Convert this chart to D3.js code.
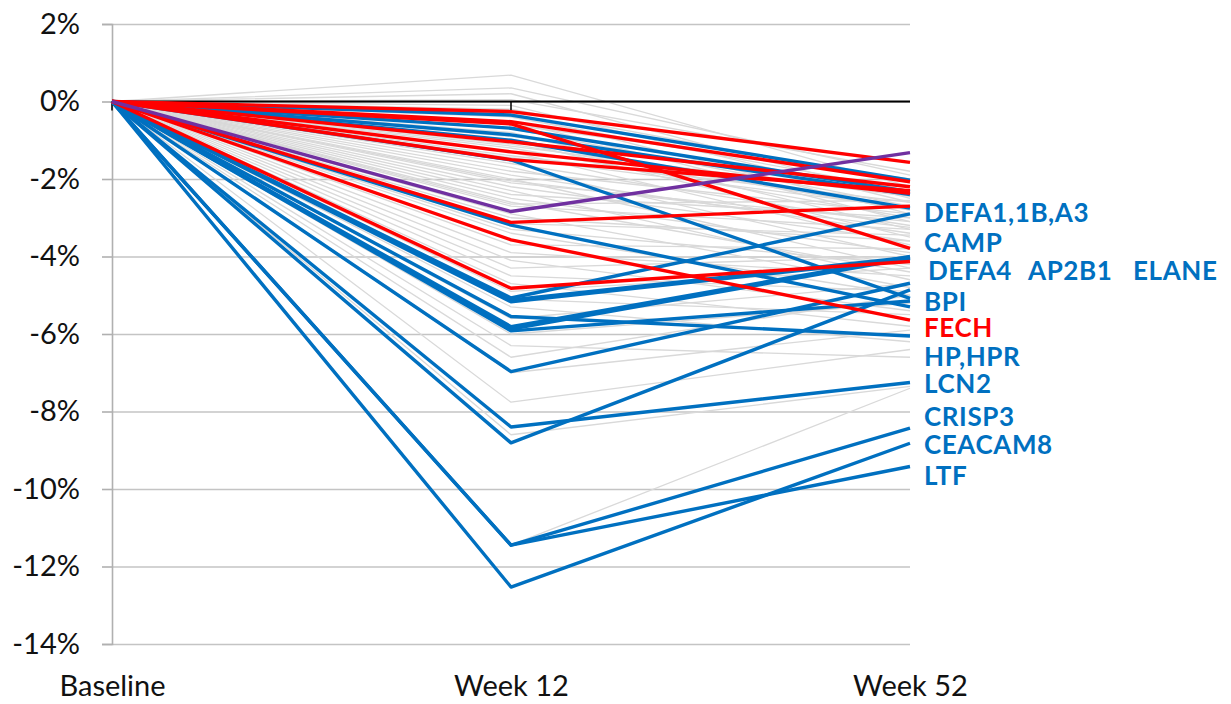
<!DOCTYPE html>
<html lang="en">
<head>
<meta charset="UTF-8">
<title>Protein change by visit</title>
<script src="https://d3js.org/d3.v7.min.js"></script>
<style>
  body { margin: 0; background: #fff; }
  text { font-family: Lato, "Open Sans", sans-serif; }
</style>
</head>
<body>
<div id="chart"></div>
<script>
// categories and tick values
const visits = ["Baseline", "Week 12", "Week 52"];
const yTicks = [2, 0, -2, -4, -6, -8, -10, -12, -14];

// background proteins: % change at week 12 and week 52 (baseline is 0)
const grayWeek12 = [0.68, 0.35, 0.2, 0.05, -0.1, -0.2, -0.3, -0.4, -0.5, -0.6, -0.7, -0.8, -0.9, -1.0, -1.1,
  -1.2, -1.3, -1.4, -1.6, -1.7, -1.8, -1.9, -2.0, -2.1, -2.2, -2.3, -2.4, -2.5, -2.6, -2.7, -2.9, -3.0,
  -3.3, -3.4, -3.7, -3.9, -4.1, -4.3, -4.5, -4.7, -4.9, -5.1, -5.3, -5.6, -6.0, -6.3, -6.6, -7.0, -7.76,
  -8.6, -11.45, -1.15, -1.45, -2.05, -2.65, -3.15];
const grayWeek52 = [-2.2, -1.9, -2.5, -1.8, -2.6, -2.1, -2.9, -2.3, -3.1, -2.0, -2.7, -3.3, -2.4, -3.5, -2.8,
  -3.0, -3.7, -2.6, -3.2, -4.0, -2.9, -3.4, -4.3, -3.1, -3.6, -4.6, -3.0, -3.9, -4.4, -3.3, -4.8, -3.6,
  -4.2, -5.0, -3.8, -4.5, -5.4, -4.0, -4.9, -5.8, -4.3, -5.5, -6.2, -4.7, -5.2, -6.6, -5.0, -5.9, -6.4,
  -7.35, -7.4, -2.45, -2.75, -3.25, -2.55, -3.45];

// highlighted proteins (blue)
const blueWeek12 = [-0.35, -0.69, -0.86, -1.0, -1.51, -3.19, -5.07, -5.12, -5.17, -5.55, -5.81, -5.87,
  -5.92, -6.97, -8.4, -8.81, -11.45, -11.45, -12.53];
const blueWeek52 = [-2.03, -2.33, -2.4, -2.75, -5.08, -5.3, -2.9, -4.02, -4.05, -6.05, -4.0, -4.04,
  -5.15, -4.69, -7.25, -4.86, -8.43, -9.42, -8.82];

// highlighted proteins (red)
const redWeek12 = [-0.26, -0.52, -0.58, -1.04, -1.3, -1.5, -3.12, -3.57, -4.82];
const redWeek52 = [-1.57, -2.07, -3.79, -2.2, -2.37, -2.3, -2.7, -5.64, -4.13];

// single purple protein
const purpleWeek12 = [-2.84];
const purpleWeek52 = [-1.32];

// gene labels at the right and the % level they sit at
const geneNames = ["DEFA1,1B,A3", "CAMP", "DEFA4", "AP2B1", "ELANE", "BPI", "FECH", "HP,HPR", "LCN2",
  "CRISP3", "CEACAM8", "LTF"];
const geneLevels = [-2.88, -3.65, -4.37, -4.37, -4.37, -5.17, -5.83, -6.59, -7.29, -8.12, -8.86, -9.66];
const geneRed = ["FECH"];

const W = 1231, H = 704;
const svg = d3.select("#chart").append("svg")
  .attr("width", W)
  .attr("height", H);

const x = d3.scalePoint().domain(visits).range([112, 910]);
const y = d3.scaleLinear().domain([-14, 2]).range([644, 24]);

// gridlines
svg.append("g")
  .attr("transform", `translate(${x("Baseline")},0)`)
  .call(d3.axisLeft(y).tickValues(yTicks).tickSize(-(x("Week 52") - x("Baseline"))).tickFormat(""))
  .call(g => g.select(".domain").remove())
  .call(g => g.selectAll("line").attr("stroke", "#c4c4c4").attr("stroke-width", 1.6));

// y axis with labels
svg.append("g")
  .attr("transform", `translate(${x("Baseline")},0)`)
  .call(d3.axisLeft(y).tickValues(yTicks).tickSize(10).tickPadding(22).tickFormat(d => d + "%"))
  .call(g => g.select(".domain").attr("stroke", "#b0b0b0").attr("stroke-width", 1.6))
  .call(g => g.selectAll("line").attr("stroke", "#b0b0b0").attr("stroke-width", 1.6))
  .call(g => g.selectAll("text").attr("font-size", 29).attr("fill", "#111")
    .style("font-family", "Lato, sans-serif"));

const line = d3.line().x(d => x(d.visit)).y(d => y(d.value));
function makeSeries(w12, w52) {
  return w12.map((v, i) => [
    { visit: visits[0], value: 0 },
    { visit: visits[1], value: v },
    { visit: visits[2], value: w52[i] }
  ]);
}

function drawGroup(data, color, width) {
  svg.append("g").selectAll("path").data(data).join("path")
    .attr("d", line)
    .attr("fill", "none")
    .attr("stroke", color)
    .attr("stroke-width", width)
    .attr("stroke-linejoin", "round");
}

drawGroup(makeSeries(grayWeek12, grayWeek52), "#d9d9d9", 1.3);

// zero line (x axis)
svg.append("line")
  .attr("x1", x("Baseline")).attr("x2", x("Week 52"))
  .attr("y1", y(0)).attr("y2", y(0))
  .attr("stroke", "#000").attr("stroke-width", 2);
svg.append("g").selectAll("line").data(visits.slice(0, 2)).join("line")
  .attr("x1", d => x(d)).attr("x2", d => x(d))
  .attr("y1", y(0)).attr("y2", y(0) + 9)
  .attr("stroke", "#000").attr("stroke-width", 1.5);

drawGroup(makeSeries(blueWeek12, blueWeek52), "#0070c0", 3.4);
drawGroup(makeSeries(redWeek12, redWeek52), "#ff0000", 3.4);
drawGroup(makeSeries(purpleWeek12, purpleWeek52), "#7030a0", 3.4);

// x axis labels
svg.append("g")
  .attr("transform", "translate(0,675)")
  .call(d3.axisBottom(x).tickSize(0).tickPadding(0))
  .call(g => g.select(".domain").remove())
  .call(g => g.selectAll("text").attr("font-size", 29).attr("fill", "#111")
    .attr("dy", "0.71em").style("font-family", "Lato, sans-serif"));

// gene labels
const labelX = { "DEFA4": 928, "AP2B1": 1028, "ELANE": 1133 };
svg.append("g").selectAll("text").data(geneNames).join("text")
  .attr("x", d => labelX[d] || 924)
  .attr("y", (d, i) => y(geneLevels[i]))
  .attr("dy", "0.36em")
  .attr("font-size", 26)
  .attr("letter-spacing", 0.6)
  .attr("font-weight", "bold")
  .attr("fill", d => geneRed.includes(d) ? "#ff0000" : "#0070c0")
  .text(d => d);
</script>
</body>
</html>
